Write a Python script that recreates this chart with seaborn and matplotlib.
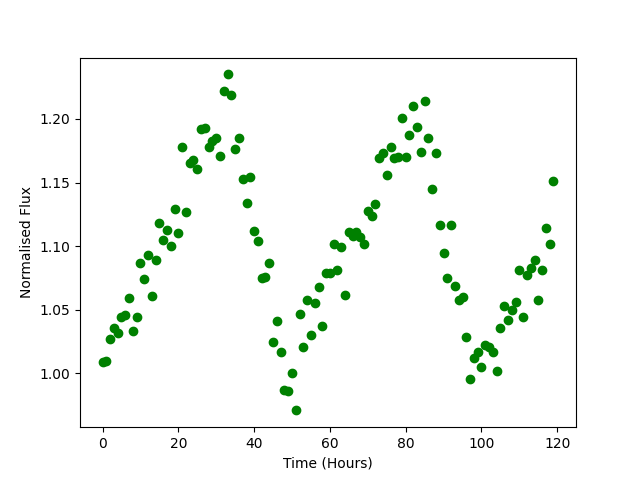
import matplotlib
matplotlib.use("Agg")
import matplotlib.pyplot as plt
import seaborn as sns
import numpy as np
import pandas as pd

time_hours = list(range(120))
flux = [
    1.009, 1.010, 1.027, 1.036, 1.032, 1.044, 1.046, 1.059, 1.033, 1.044,
    1.087, 1.074, 1.093, 1.061, 1.089, 1.118, 1.105, 1.113, 1.100, 1.129,
    1.110, 1.178, 1.127, 1.165, 1.168, 1.161, 1.192, 1.193, 1.178, 1.183,
    1.185, 1.171, 1.222, 1.235, 1.219, 1.176, 1.185, 1.153, 1.134, 1.154,
    1.112, 1.104, 1.075, 1.076, 1.087, 1.025, 1.041, 1.017, 0.987, 0.986,
    1.000, 0.971, 1.047, 1.021, 1.058, 1.030, 1.055, 1.068, 1.037, 1.079,
    1.079, 1.102, 1.081, 1.099, 1.062, 1.111, 1.108, 1.111, 1.107, 1.102,
    1.128, 1.124, 1.133, 1.169, 1.173, 1.156, 1.178, 1.169, 1.170, 1.201,
    1.170, 1.187, 1.210, 1.194, 1.174, 1.214, 1.185, 1.145, 1.173, 1.117,
    1.095, 1.075, 1.117, 1.069, 1.058, 1.060, 1.029, 0.996, 1.012, 1.017,
    1.005, 1.022, 1.021, 1.017, 1.002, 1.036, 1.053, 1.042, 1.050, 1.056,
    1.081, 1.044, 1.077, 1.083, 1.089, 1.058, 1.081, 1.114, 1.102, 1.151,
]

df = pd.DataFrame({"time": time_hours, "flux": flux})

plt.rcParams['font.family'] = ['DejaVu Sans']
fig, ax = plt.subplots(figsize=(6.4, 4.8), dpi=100)
sns.scatterplot(data=df, x="time", y="flux", color="green", s=36,
                edgecolor="green", linewidth=1, ax=ax)
ax.set_xlabel("Time (Hours)")
ax.set_ylabel("Normalised Flux")
ax.set_xticks([0, 20, 40, 60, 80, 100, 120])
ax.set_yticks([1.00, 1.05, 1.10, 1.15, 1.20])
ax.set_yticklabels(["1.00", "1.05", "1.10", "1.15", "1.20"])
fig.savefig("out.png", dpi=100)
